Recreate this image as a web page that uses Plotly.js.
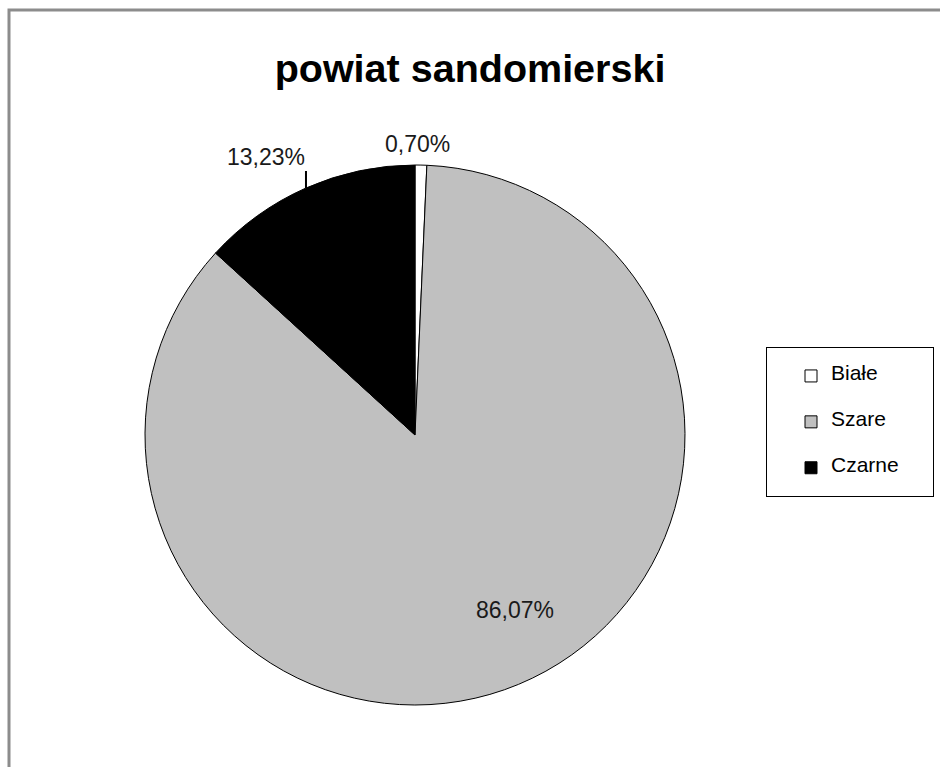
<!DOCTYPE html>
<html>
<head>
<meta charset="utf-8">
<script src="https://cdn.plot.ly/plotly-3.0.1.min.js"></script>
<style>html,body{margin:0;padding:0;background:#fff;}#chart{width:940px;height:767px;}</style>
</head>
<body>
<div id="chart"></div>
<script>
const categories = ['Białe', 'Szare', 'Czarne'];
const shares = [0.70, 86.07, 13.23];
const sliceColors = ['#ffffff', '#c0c0c0', '#000000'];
const chartTitle = 'powiat sandomierski';

const W = 940, H = 767;
const cx = 415, cy = 435, r = 270;
const labelFont = { family: 'Liberation Sans, Arial, sans-serif', size: 23, color: '#1a1a1a' };

// legend text: name centred between two blank lines (keeps Excel-like row spacing)
const pad = '\u00a0'.repeat(5);
const legendLabels = categories.map(c => ' <br><span style="font-size:21px">' + c + pad + '</span><br> ');

const trace = {
  type: 'pie',
  labels: legendLabels,
  values: shares,
  sort: false,
  direction: 'clockwise',
  rotation: 0,
  marker: { colors: sliceColors, line: { color: '#000000', width: 1 } },
  textinfo: 'none',
  hoverinfo: 'none',
  automargin: false,
  domain: { x: [(cx - r) / W, (cx + r) / W], y: [1 - (cy + r) / H, 1 - (cy - r) / H] }
};

// percentage labels positioned from the data (mid-angle of each slice)
const total = shares.reduce((a, b) => a + b, 0);
let cum = 0;
const annotations = shares.map((v, i) => {
  const midFrac = (cum + v / 2) / total;
  cum += v;
  const ang = midFrac * 2 * Math.PI; // clockwise from 12 o'clock
  const sx = Math.sin(ang), sy = -Math.cos(ang);
  const txt = (v / total * 100).toFixed(2).replace('.', ',') + '%';
  const toPaper = (px, py) => ({ x: px / W, y: 1 - py / H });
  if (i === 0) { // small slice: label just above outside
    const p = toPaper(cx + sx * (r + 6) - 4, cy + sy * (r + 6));
    return { x: p.x, y: p.y, xref: 'paper', yref: 'paper', text: txt, showarrow: false,
      xanchor: 'center', yanchor: 'bottom', font: labelFont };
  } else if (i === 1) { // big slice: inside
    const p = toPaper(cx + sx * r * 0.75 + 22, cy + sy * r * 0.75 - 12);
    return { x: p.x, y: p.y, xref: 'paper', yref: 'paper', text: txt, showarrow: false,
      xanchor: 'center', yanchor: 'middle', font: labelFont };
  } else { // leader line from slice edge
    const p = toPaper(cx + sx * r, cy + sy * r);
    return { x: p.x, y: p.y, xref: 'paper', yref: 'paper', text: txt, showarrow: true,
      ax: 0, ay: -17, axref: 'pixel', ayref: 'pixel', arrowhead: 0, arrowwidth: 2, arrowcolor: '#000000',
      xanchor: 'right', yanchor: 'bottom', borderpad: 0, font: labelFont };
  }
});

const layout = {
  width: W, height: H,
  margin: { l: 0, r: 0, t: 0, b: 0 },
  paper_bgcolor: '#ffffff',
  title: {
    text: chartTitle,
    font: { family: 'Liberation Sans, Arial, sans-serif', size: 39.5, color: '#000000', weight: 'bold' },
    x: 0.5, xanchor: 'center', y: 1 - 68 / H, yanchor: 'middle'
  },
  showlegend: true,
  legend: {
    x: 766 / W, xanchor: 'left', y: 1 - 347 / H, yanchor: 'top',
    bordercolor: '#000000', borderwidth: 1, bgcolor: '#ffffff',
    font: { family: 'Liberation Sans, Arial, sans-serif', size: 11, color: '#000000' },
    valign: 'middle', itemwidth: 30, indentation: 24
  },
  annotations: annotations,
  shapes: [{
    type: 'rect', xref: 'paper', yref: 'paper',
    x0: 9 / W, x1: 1.02, y0: -0.02, y1: 1 - 10 / H,
    line: { color: '#8c8c8c', width: 3 }, fillcolor: 'rgba(0,0,0,0)', layer: 'below'
  }]
};

Plotly.newPlot('chart', [trace], layout, { displayModeBar: false, staticPlot: true });
</script>
</body>
</html>
